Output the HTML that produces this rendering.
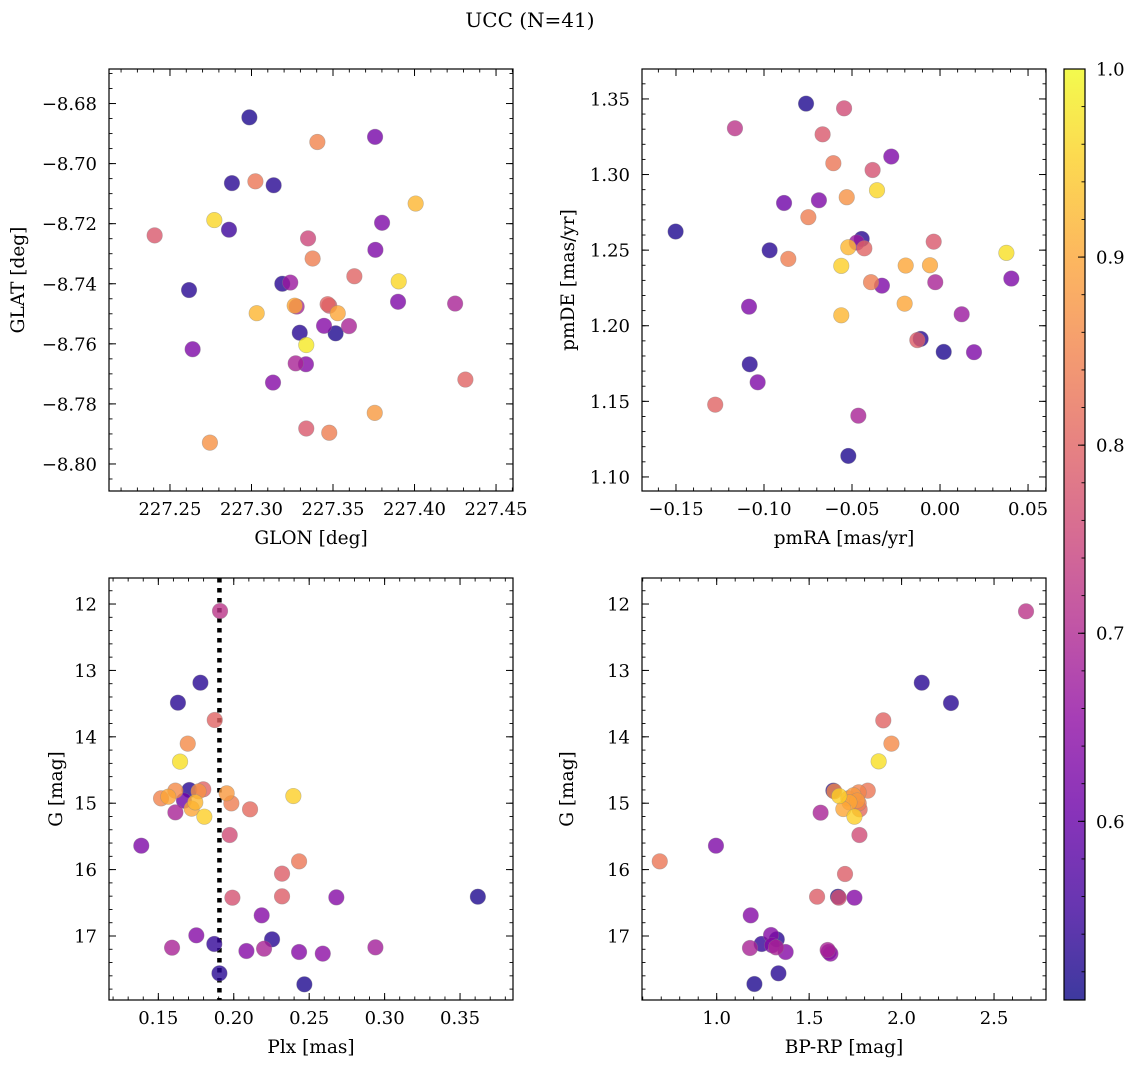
<!DOCTYPE html>
<html><head><meta charset="utf-8"><style>
html,body{margin:0;padding:0;background:#fff;}
svg text{font-family:"DejaVu Serif","Liberation Serif",serif;fill:#000;}
</style></head><body>
<svg id="fig" width="1136" height="1068" viewBox="0 0 1136 1068" xmlns="http://www.w3.org/2000/svg">
<defs>
<linearGradient id="plasmaGrad" x1="0" y1="1" x2="0" y2="0">
<stop offset="0" stop-color="#0d0887"/><stop offset="0.1" stop-color="#41049d"/><stop offset="0.2" stop-color="#6a00a8"/><stop offset="0.3" stop-color="#8f0da4"/><stop offset="0.4" stop-color="#b12a90"/><stop offset="0.5" stop-color="#cc4778"/><stop offset="0.6" stop-color="#e16462"/><stop offset="0.7" stop-color="#f2844b"/><stop offset="0.8" stop-color="#fca636"/><stop offset="0.9" stop-color="#fcce25"/><stop offset="1" stop-color="#f0f921"/>
</linearGradient>
</defs>
<text x="530" y="27" text-anchor="middle" font-size="20">UCC (N=41)</text>
</svg>
<script>
// ---- data ----
const glon = [227.2987,227.3404,227.3758,227.2880,227.3024,227.3136,227.4007,227.2772,227.3801,227.2406,227.2862,227.3347,227.3760,227.3375,227.3631,227.3189,227.3238,227.3903,227.2617,227.3899,227.4249,227.3277,227.3265,227.3467,227.3477,227.3529,227.3032,227.3445,227.3598,227.3296,227.3516,227.3336,227.2639,227.3271,227.3334,227.3132,227.4312,227.3756,227.3336,227.3477,227.2745];
const glat = [-8.6846,-8.6928,-8.6911,-8.7065,-8.7059,-8.7072,-8.7133,-8.7188,-8.7197,-8.7239,-8.7220,-8.7249,-8.7287,-8.7316,-8.7375,-8.7400,-8.7396,-8.7392,-8.7421,-8.7460,-8.7466,-8.7476,-8.7473,-8.7468,-8.7473,-8.7498,-8.7498,-8.7540,-8.7541,-8.7563,-8.7565,-8.7604,-8.7618,-8.7665,-8.7668,-8.7729,-8.7719,-8.7830,-8.7882,-8.7896,-8.7929];
const probPos = [0.52,0.85,0.62,0.53,0.83,0.53,0.92,0.96,0.63,0.78,0.55,0.75,0.63,0.84,0.80,0.53,0.67,0.96,0.53,0.63,0.69,0.69,0.90,0.80,0.78,0.90,0.92,0.64,0.69,0.53,0.52,0.98,0.63,0.69,0.64,0.64,0.80,0.88,0.78,0.84,0.87];
const pmra = [-0.0761,-0.0545,-0.1165,-0.0667,-0.0277,-0.0606,-0.0383,-0.0358,-0.0530,-0.0886,-0.0688,-0.0748,-0.1502,-0.0445,-0.0473,-0.0521,-0.0430,-0.0036,0.0377,-0.0968,-0.0862,-0.0561,-0.0195,-0.0057,-0.0027,-0.0392,-0.0330,0.0405,-0.1085,-0.0201,-0.0561,0.0123,-0.0110,-0.0129,0.0021,0.0193,-0.1081,-0.1036,-0.1277,-0.0464,-0.0521];
const pmde = [1.3469,1.3438,1.3306,1.3266,1.3119,1.3075,1.3030,1.2896,1.2850,1.2812,1.2830,1.2718,1.2623,1.2574,1.2550,1.2519,1.2512,1.2556,1.2482,1.2499,1.2442,1.2396,1.2398,1.2400,1.2288,1.2288,1.2265,1.2312,1.2126,1.2146,1.2069,1.2076,1.1913,1.1905,1.1827,1.1825,1.1745,1.1626,1.1478,1.1405,1.1139];
const probPm = [0.52,0.76,0.72,0.78,0.63,0.83,0.77,0.96,0.87,0.61,0.63,0.84,0.52,0.53,0.67,0.92,0.80,0.78,0.97,0.53,0.84,0.95,0.90,0.90,0.69,0.84,0.63,0.63,0.63,0.90,0.92,0.67,0.53,0.79,0.52,0.63,0.53,0.63,0.80,0.69,0.52];
const plx = [0.1909,0.1779,0.1630,0.1874,0.1695,0.1644,0.1518,0.1566,0.1613,0.1706,0.1798,0.1767,0.1670,0.1745,0.1721,0.1613,0.1805,0.1953,0.1984,0.2108,0.2395,0.1973,0.1387,0.2433,0.2320,0.1991,0.2320,0.2680,0.3618,0.2185,0.1752,0.1871,0.2254,0.1591,0.2084,0.2201,0.2433,0.2590,0.2939,0.1905,0.2468];
const gPlx = [12.105,13.185,13.486,13.747,14.103,14.374,14.927,14.902,14.811,14.801,14.791,14.821,14.962,14.987,15.082,15.138,15.203,14.851,15.002,15.092,14.892,15.479,15.640,15.876,16.061,16.423,16.403,16.418,16.408,16.689,16.990,17.120,17.050,17.176,17.226,17.191,17.241,17.266,17.171,17.562,17.728];
const probPlx = [0.72,0.53,0.53,0.80,0.86,0.97,0.85,0.90,0.86,0.53,0.80,0.87,0.61,0.92,0.90,0.69,0.95,0.88,0.84,0.81,0.95,0.76,0.63,0.83,0.79,0.77,0.79,0.64,0.52,0.64,0.64,0.54,0.53,0.69,0.64,0.69,0.64,0.65,0.68,0.53,0.52];
const bprp = [2.673,2.109,2.267,1.901,1.945,1.876,1.631,1.636,1.768,1.817,1.663,1.718,1.712,1.685,1.768,1.773,1.745,1.562,1.772,0.996,0.692,1.694,1.543,1.656,1.660,1.745,1.184,1.294,1.325,1.243,1.180,1.321,1.373,1.600,1.615,1.334,1.204,1.606,1.740,1.760,1.300];
const gCmd = [12.11,13.185,13.491,13.752,14.103,14.370,14.811,14.821,14.836,14.811,14.892,14.987,14.927,15.087,15.002,15.092,15.203,15.143,15.479,15.640,15.876,16.066,16.408,16.408,16.423,16.423,16.689,16.985,17.050,17.120,17.181,17.171,17.241,17.211,17.266,17.562,17.723,17.24,14.88,14.96,17.14];
const probCmd = [0.72,0.53,0.53,0.80,0.86,0.97,0.53,0.86,0.85,0.83,0.95,0.90,0.87,0.90,0.84,0.81,0.95,0.69,0.76,0.63,0.83,0.79,0.79,0.52,0.77,0.64,0.64,0.64,0.53,0.54,0.69,0.69,0.64,0.69,0.65,0.53,0.52,0.64,0.88,0.88,0.64];
const plxLine = [0.1905];
const ticksGlon = [227.25,227.30,227.35,227.40,227.45];
const ticksGlat = [-8.68,-8.70,-8.72,-8.74,-8.76,-8.78,-8.80];
const ticksPmra = [-0.15,-0.10,-0.05,0.00,0.05];
const ticksPmde = [1.10,1.15,1.20,1.25,1.30,1.35];
const ticksPlx = [0.15,0.20,0.25,0.30,0.35];
const ticksG = [12,13,14,15,16,17];
const ticksBprp = [1.0,1.5,2.0,2.5];
const ticksCbar = [0.6,0.7,0.8,0.9,1.0];
const cMin = 0.505, cMax = 1.0;

// ---- drawing ----
const NS = "http://www.w3.org/2000/svg";
const svg = document.getElementById('fig');
const stops = ["#0d0887","#41049d","#6a00a8","#8f0da4","#b12a90","#cc4778","#e16462","#f2844b","#fca636","#fcce25","#f0f921"];
const TICK_FS = 18, TITLE_FS = 18.5;
function plasma(v){
  let t = Math.max(0, Math.min(1, (v - cMin) / (cMax - cMin))) * 10;
  const i = Math.min(9, Math.floor(t)); const f = t - i;
  const a = stops[i], b = stops[i+1];
  const p = k => parseInt(a.substr(k,2),16)*(1-f) + parseInt(b.substr(k,2),16)*f;
  return `rgb(${Math.round(p(1))},${Math.round(p(3))},${Math.round(p(5))})`;
}
function mk(tag, attrs, parent){
  const e = document.createElementNS(NS, tag);
  for (const k in attrs) e.setAttribute(k, attrs[k]);
  (parent || svg).appendChild(e);
  return e;
}
function fmt(v, d){ const s = Math.abs(v).toFixed(d); return (v < -1e-9 ? "\u2212" : "") + s; }

function panel(o){
  const g = mk('g', {});
  
  
  const sx = v => o.x0 + (v - o.xmin) / (o.xmax - o.xmin) * (o.x1 - o.x0);
  const sy = v => o.inv ? o.y0 + (v - o.ymin) / (o.ymax - o.ymin) * (o.y1 - o.y0)
                        : o.y1 - (v - o.ymin) / (o.ymax - o.ymin) * (o.y1 - o.y0);
  if (o.vline) {
    const l = mk('line', {x1: sx(o.vline[0]), x2: sx(o.vline[0]), y1: o.y0, y2: o.y1, stroke: '#000', 'stroke-width': 4.5, 'stroke-dasharray': '4.5 5.5'}, g);
    
    
  }
  const idx = o.xs.map((_, i) => i).sort((a, b) => o.cs[a] - o.cs[b]);
  idx.forEach(i => {
    const c = mk('circle', {cx: sx(o.xs[i]), cy: sy(o.ys[i]), r: 7.8, fill: plasma(o.cs[i]), 'fill-opacity': 0.8, stroke: '#888', 'stroke-opacity': 0.5, 'stroke-width': 0.6}, g);
    
    
  });
  const fr = mk('rect', {x: o.x0, y: o.y0, width: o.x1 - o.x0, height: o.y1 - o.y0, fill: 'none', stroke: '#000', 'stroke-width': 1.2}, g);
  
  
  const xstep = o.xminor;
  for (let v = Math.ceil(o.xmin / xstep - 1e-6) * xstep; v <= o.xmax + 1e-9; v += xstep) {
    const X = sx(v);
    mk('line', {x1: X, x2: X, y1: o.y1, y2: o.y1 - 3.5, stroke: '#000', 'stroke-width': 0.9}, g);
    mk('line', {x1: X, x2: X, y1: o.y0, y2: o.y0 + 3.5, stroke: '#000', 'stroke-width': 0.9}, g);
  }
  o.xt.forEach(v => {
    const X = sx(v);
    mk('line', {x1: X, x2: X, y1: o.y1, y2: o.y1 - 7, stroke: '#000', 'stroke-width': 1}, g);
    mk('line', {x1: X, x2: X, y1: o.y0, y2: o.y0 + 7, stroke: '#000', 'stroke-width': 1}, g);
    const t = mk('text', {x: X, y: o.y1 + 24, 'text-anchor': 'middle', 'font-size': TICK_FS}, g);
    t.textContent = fmt(v, o.xd);
    
    
  });
  const ystep = o.yminor;
  for (let v = Math.ceil(o.ymin / ystep - 1e-6) * ystep; v <= o.ymax + 1e-9; v += ystep) {
    const Y = sy(v);
    mk('line', {x1: o.x0, x2: o.x0 + 3.5, y1: Y, y2: Y, stroke: '#000', 'stroke-width': 0.9}, g);
    mk('line', {x1: o.x1, x2: o.x1 - 3.5, y1: Y, y2: Y, stroke: '#000', 'stroke-width': 0.9}, g);
  }
  o.yt.forEach(v => {
    const Y = sy(v);
    mk('line', {x1: o.x0, x2: o.x0 + 7, y1: Y, y2: Y, stroke: '#000', 'stroke-width': 1}, g);
    mk('line', {x1: o.x1, x2: o.x1 - 7, y1: Y, y2: Y, stroke: '#000', 'stroke-width': 1}, g);
    const t = mk('text', {x: o.x0 - 12, y: Y + 6.5, 'text-anchor': 'end', 'font-size': TICK_FS}, g);
    t.textContent = fmt(v, o.yd);
    
    
  });
  const xl = mk('text', {x: (o.x0 + o.x1) / 2, y: o.y1 + 53, 'text-anchor': 'middle', 'font-size': TITLE_FS}, g);
  xl.textContent = o.xlabel;
  
  
  const yl = mk('text', {x: 0, y: 0, 'text-anchor': 'middle', 'font-size': TITLE_FS, transform: `translate(${o.ylx},${(o.y0 + o.y1) / 2}) rotate(-90)`}, g);
  yl.textContent = o.ylabel;
  
  
}

panel({name: 'glon-glat-panel', x0: 109, x1: 513, y0: 69, y1: 491, xmin: 227.2126, xmax: 227.4604, ymin: -8.809, ymax: -8.6685,
  xs: glon, ys: glat, cs: probPos, xt: ticksGlon, yt: ticksGlat, xd: 2, yd: 2, xminor: 0.01, yminor: 0.005,
  xlabel: 'GLON [deg]', ylabel: 'GLAT [deg]', ylx: 24});
panel({name: 'proper-motion-panel', x0: 642, x1: 1046, y0: 69, y1: 491, xmin: -0.1693, xmax: 0.0602, ymin: 1.0907, ymax: 1.3698,
  xs: pmra, ys: pmde, cs: probPm, xt: ticksPmra, yt: ticksPmde, xd: 2, yd: 2, xminor: 0.01, yminor: 0.01,
  xlabel: 'pmRA [mas/yr]', ylabel: 'pmDE [mas/yr]', ylx: 574});
panel({name: 'parallax-magnitude-panel', x0: 109, x1: 513, y0: 578, y1: 1000, xmin: 0.1173, xmax: 0.3851, ymin: 11.608, ymax: 17.964, inv: true,
  xs: plx, ys: gPlx, cs: probPlx, xt: ticksPlx, yt: ticksG, xd: 2, yd: 0, xminor: 0.01, yminor: 0.2, vline: plxLine,
  xlabel: 'Plx [mas]', ylabel: 'G [mag]', ylx: 62});
panel({name: 'color-magnitude-panel', x0: 642, x1: 1046, y0: 578, y1: 1000, xmin: 0.596, xmax: 2.781, ymin: 11.608, ymax: 17.964, inv: true,
  xs: bprp, ys: gCmd, cs: probCmd, xt: ticksBprp, yt: ticksG, xd: 1, yd: 0, xminor: 0.1, yminor: 0.2,
  xlabel: 'BP-RP [mag]', ylabel: 'G [mag]', ylx: 573});

const cb = mk('g', {});


const cbx0 = 1064, cbx1 = 1085, cby0 = 69, cby1 = 1000;
mk('rect', {x: cbx0, y: cby0, width: cbx1 - cbx0, height: cby1 - cby0, fill: 'url(#plasmaGrad)', 'fill-opacity': 0.8}, cb);
mk('rect', {x: cbx0, y: cby0, width: cbx1 - cbx0, height: cby1 - cby0, fill: 'none', stroke: '#000', 'stroke-width': 1.2}, cb);
const cy = v => cby1 - (v - cMin) / (cMax - cMin) * (cby1 - cby0);
for (let v = 0.52; v <= cMax + 1e-9; v += 0.02) {
  mk('line', {x1: cbx1, x2: cbx1 - 3.5, y1: cy(v), y2: cy(v), stroke: '#000', 'stroke-width': 0.9}, cb);
}
ticksCbar.forEach(v => {
  const Y = cy(v);
  mk('line', {x1: cbx1, x2: cbx1 - 7, y1: Y, y2: Y, stroke: '#000', 'stroke-width': 1}, cb);
  const t = mk('text', {x: cbx1 + 11, y: Y + 6.5, 'font-size': TICK_FS}, cb);
  t.textContent = v.toFixed(1);
  
  
});
</script>
</body></html>
